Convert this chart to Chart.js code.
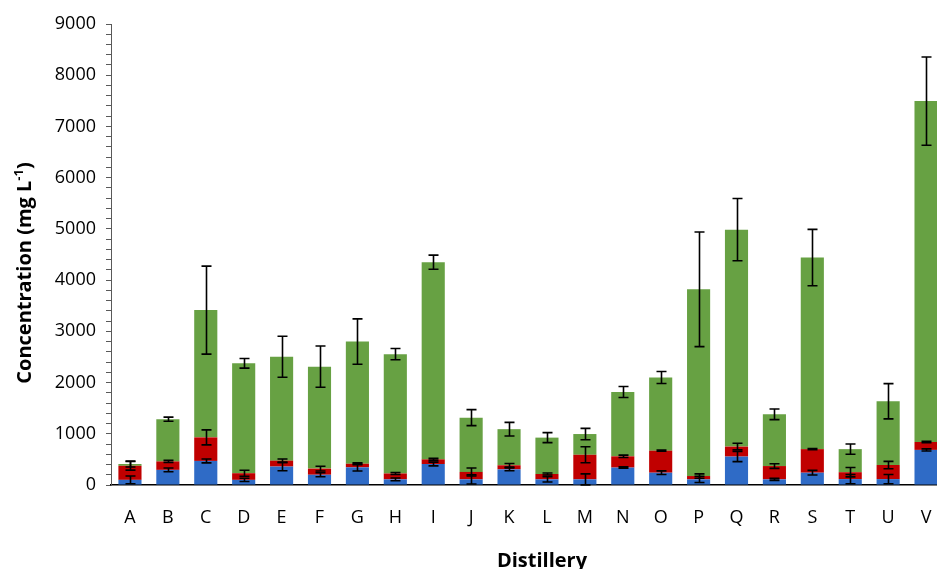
<!DOCTYPE html>
<html>
<head>
<meta charset="utf-8">
<script src="https://cdn.jsdelivr.net/npm/chart.js@4"></script>
<style>
    html, body { margin: 0; padding: 0; background: #fff; overflow: hidden; }
    #wrap { width: 950px; height: 569px; }
</style>
</head>
<body>
<div id="wrap"><canvas id="grafico" width="950" height="569"></canvas></div>
<script>
// Distilleries
const categories = ["A","B","C","D","E","F","G","H","I","J","K","L","M","N","O","P","Q","R","S","T","U","V"];

// stacked segment values (mg/L)
const blueValues  = [100, 295, 470, 100, 360, 200, 345, 110, 410, 110, 305, 110, 110, 340, 240, 110, 555, 110, 240, 115, 115, 685];
const redValues   = [275, 165, 460, 130, 115, 120,  70, 115,  90, 145,  80, 105, 480, 220, 430,  65, 195, 260, 460, 135, 275, 155];
const greenValues = [ 35, 825, 2485, 2145, 2030, 1990, 2385, 2330, 3850, 1060, 705, 710, 405, 1255, 1430, 3645, 4235, 1010, 3740, 450, 1245, 6655];

// error bars (+/-), drawn at the top of each segment
const blueErr  = [75, 36, 39, 33, 81, 39, 72, 26, 36, 91, 26, 52, 107, 14, 36, 62, 98, 20, 46, 91, 91, 20];
const redErr   = [85, 20, 146, 59, 33, 46, 20, 20, 20, 78, 36, 20, 156, 23, 10, 42, 65, 46, 10, 91, 72, 14];
const greenErr = [60, 40, 859, 94, 400, 403, 443, 111, 137, 156, 133, 98, 111, 107, 117, 1119, 608, 104, 550, 101, 345, 862];

const yMax = 9000;
const yStep = 200;
const yLabelStep = 1000;

const errores = [blueErr, redErr, greenErr];

const errorBarsPlugin = {
    id: "errorBars",
    afterDatasetsDraw(chart) {
        const ctx = chart.ctx;
        const x = chart.scales.x;
        const y = chart.scales.y;
        ctx.save();
        ctx.strokeStyle = "#000";
        ctx.lineWidth = 1.6;
        const acumulado = categories.map(() => 0);
        chart.data.datasets.forEach((ds, i) => {
            ds.data.forEach((v, j) => {
                acumulado[j] += v;
                const err = errores[i][j];
                const cx = Math.round(x.getPixelForValue(j)) + 0.5;
                const yTop = y.getPixelForValue(acumulado[j] + err);
                const yBot = y.getPixelForValue(acumulado[j] - err);
                ctx.beginPath();
                ctx.moveTo(cx, yTop);
                ctx.lineTo(cx, yBot);
                ctx.moveTo(cx - 5, yTop);
                ctx.lineTo(cx + 5, yTop);
                ctx.moveTo(cx - 5, yBot);
                ctx.lineTo(cx + 5, yBot);
                ctx.stroke();
            });
        });
        ctx.restore();
    }
};

// axis titles (with superscript on the y title)
const axisTitlesPlugin = {
    id: "axisTitles",
    afterDraw(chart) {
        const ctx = chart.ctx;
        const area = chart.chartArea;
        ctx.save();
        ctx.fillStyle = "#000";
        ctx.textBaseline = "alphabetic";

        // x title
        ctx.font = "bold 20px 'Open Sans', sans-serif";
        ctx.textAlign = "center";
        ctx.fillText("Distillery", (area.left + area.right) / 2 + 14, 567);

        // y title
        const main = "Concentration (mg L";
        const sup = "-1";
        const close = ")";
        ctx.font = "bold 20px 'Open Sans', sans-serif";
        const wMain = ctx.measureText(main).width;
        const wClose = ctx.measureText(close).width;
        ctx.font = "bold 13px 'Open Sans', sans-serif";
        const wSup = ctx.measureText(sup).width;
        const total = wMain + wSup + wClose;
        ctx.translate(31, 273);
        ctx.rotate(-Math.PI / 2);
        ctx.textAlign = "left";
        let px = -total / 2;
        ctx.font = "bold 20px 'Open Sans', sans-serif";
        ctx.fillText(main, px, 0);
        px += wMain;
        ctx.font = "bold 13px 'Open Sans', sans-serif";
        ctx.fillText(sup, px, -8);
        px += wSup;
        ctx.font = "bold 20px 'Open Sans', sans-serif";
        ctx.fillText(close, px, 0);
        ctx.restore();
    }
};

const ctx = document.getElementById("grafico").getContext("2d");
const myChart = new Chart(ctx, {
    type: "bar",
    data: {
        labels: categories,
        datasets: [
            { label: "Blue", data: blueValues, backgroundColor: "#2F6BC6", borderWidth: 0 },
            { label: "Red", data: redValues, backgroundColor: "#C00000", borderWidth: 0 },
            { label: "Green", data: greenValues, backgroundColor: "#67A143", borderWidth: 0 }
        ]
    },
    options: {
        responsive: false,
        animation: false,
        events: [],
        layout: {
            padding: { top: 24, right: 5, left: 0, bottom: 0 }
        },
        plugins: {
            legend: { display: false },
            tooltip: { enabled: false }
        },
        datasets: {
            bar: {
                categoryPercentage: 1,
                barPercentage: 0.61
            }
        },
        scales: {
            x: {
                stacked: true,
                grid: { display: false },
                border: { display: true, color: "#000", width: 1.5 },
                ticks: {
                    color: "#000",
                    padding: 14,
                    font: { family: "'Open Sans', sans-serif", size: 18 }
                },
                afterFit: function(scale) { scale.height = 84; }
            },
            y: {
                stacked: true,
                min: 0,
                max: yMax,
                grid: {
                    drawOnChartArea: false,
                    drawTicks: true,
                    tickLength: 5,
                    color: "#595959"
                },
                border: { display: true, color: "#595959", width: 1 },
                ticks: {
                    stepSize: yStep,
                    autoSkip: false,
                    color: "#000",
                    padding: 10,
                    font: { family: "'Open Sans', sans-serif", size: 18 },
                    callback: function(value) {
                        return value % yLabelStep === 0 ? value : "";
                    }
                },
                afterFit: function(scale) { scale.width = 111; }
            }
        }
    },
    plugins: [errorBarsPlugin, axisTitlesPlugin]
});
</script>
</body>
</html>
